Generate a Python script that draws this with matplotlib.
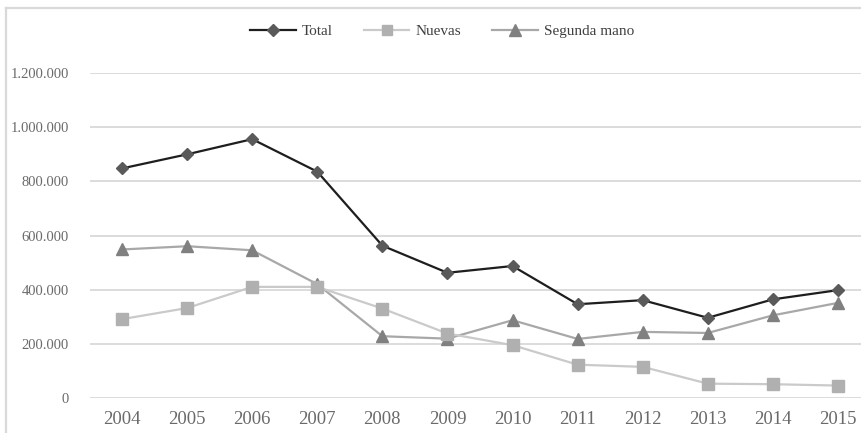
import matplotlib
matplotlib.use("Agg")
import matplotlib.pyplot as plt
from matplotlib.lines import Line2D
from matplotlib.ticker import FuncFormatter

years = ["2004", "2005", "2006", "2007", "2008", "2009",
         "2010", "2011", "2012", "2013", "2014", "2015"]
total = [848000, 900000, 956000, 836000, 563000, 463000,
         488000, 347000, 362000, 297000, 365000, 399000]
nuevas = [292000, 333000, 411000, 411000, 331000, 239000,
          196000, 124000, 116000, 54000, 52000, 47000]
segunda_mano = [549000, 561000, 546000, 421000, 229000, 220000,
                288000, 219000, 245000, 241000, 306000, 352000]

plt.rcParams["font.family"] = ["Liberation Serif", "DejaVu Serif"]

W, H = 862, 433
fig = plt.figure(figsize=(W / 100, H / 100), dpi=100)

# light frame around the chart area
fig.add_artist(Line2D([6 / W, 6 / W], [0, 1 - 8 / H], transform=fig.transFigure,
                      color="#d9d9d9", lw=1.6))
fig.add_artist(Line2D([6 / W, 1], [1 - 8 / H, 1 - 8 / H], transform=fig.transFigure,
                      color="#d9d9d9", lw=1.6))

left, right = 89.5, 870.5
y0, y1 = 398.3, 73.0
ax = fig.add_axes([left / W, (H - y0) / H, (right - left) / W, (y0 - y1) / H])

x = list(range(len(years)))
ax.plot(x, segunda_mano, color="#a8a8a8", lw=1.6, marker="^", markersize=9,
        markerfacecolor="#808080", markeredgecolor="#808080", label="Segunda mano", zorder=3)
ax.plot(x, nuevas, color="#cacaca", lw=1.6, marker="s", markersize=8.5,
        markerfacecolor="#b0b0b0", markeredgecolor="#b0b0b0", label="Nuevas", zorder=3)
ax.plot(x, total, color="#1e1e1e", lw=1.6, marker="D", markersize=6.5,
        markerfacecolor="#5a5a5a", markeredgecolor="#5a5a5a", label="Total", zorder=4)

ax.set_xlim(-0.5, len(years) - 0.5)
ax.set_ylim(0, 1200000)
ax.set_yticks(range(0, 1200001, 200000))
ax.yaxis.set_major_formatter(FuncFormatter(lambda v, p: f"{int(v):,}".replace(",", ".")))
ax.set_xticks(x)
ax.set_xticklabels(years)

ax.grid(axis="y", color="#d9d9d9", lw=1.3)
ax.set_axisbelow(True)
for s in ax.spines.values():
    s.set_visible(False)
ax.tick_params(axis="both", length=0, colors="#6a6a6a")
ax.tick_params(axis="y", labelsize=10.5, pad=15)
ax.tick_params(axis="x", labelsize=13.5, pad=9)

handles, labels = ax.get_legend_handles_labels()
order = [2, 1, 0]
fig.legend([handles[i] for i in order], [labels[i] for i in order],
           loc="center", bbox_to_anchor=(442 / W, 1 - 31 / H), ncol=3, frameon=False,
           fontsize=11, handlelength=3.0, handletextpad=0.4, columnspacing=2.0,
           labelcolor="#404040", markerscale=0.9)

fig.savefig("out.png", dpi=100)
